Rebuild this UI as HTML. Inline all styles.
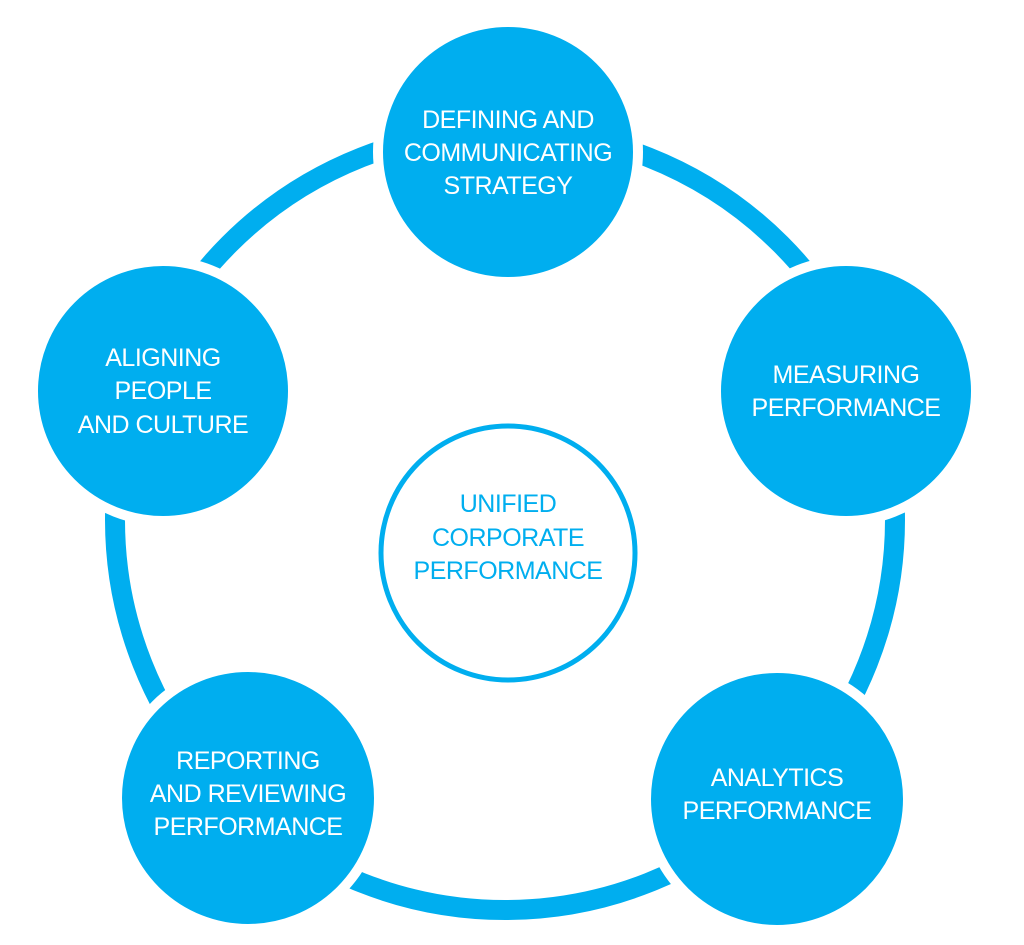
<!DOCTYPE html>
<html><head><style>
html,body{margin:0;padding:0;background:#fff;}
svg{display:block;}
text{font-family:"Liberation Sans",sans-serif;font-size:25px;text-anchor:middle;letter-spacing:-0.5px;}
</style></head><body>
<svg width="1024" height="945" viewBox="0 0 1024 945" xmlns="http://www.w3.org/2000/svg">
<circle cx="505" cy="520" r="390" fill="none" stroke="#00aeef" stroke-width="20"/>
<g fill="#00aeef" stroke="#fff" stroke-width="10">
<circle cx="508" cy="152" r="130"/>
<circle cx="846" cy="391" r="130"/>
<circle cx="777" cy="799" r="131"/>
<circle cx="248" cy="798" r="131"/>
<circle cx="163" cy="391" r="130"/>
</g>
<circle cx="508" cy="553" r="127" fill="#fff" stroke="#00aeef" stroke-width="5"/>
<g fill="#fff">
<text x="508" y="128">DEFINING AND</text>
<text x="508" y="161">COMMUNICATING</text>
<text x="508" y="194">STRATEGY</text>
<text x="846" y="383">MEASURING</text>
<text x="846" y="416">PERFORMANCE</text>
<text x="777" y="786">ANALYTICS</text>
<text x="777" y="819">PERFORMANCE</text>
<text x="248" y="769">REPORTING</text>
<text x="248" y="802">AND REVIEWING</text>
<text x="248" y="835">PERFORMANCE</text>
<text x="163" y="366">ALIGNING</text>
<text x="163" y="399">PEOPLE</text>
<text x="163" y="433">AND CULTURE</text>
</g>
<g fill="#00aeef">
<text x="508" y="512">UNIFIED</text>
<text x="508" y="546">CORPORATE</text>
<text x="508" y="579">PERFORMANCE</text>
</g>
</svg>
</body></html>
